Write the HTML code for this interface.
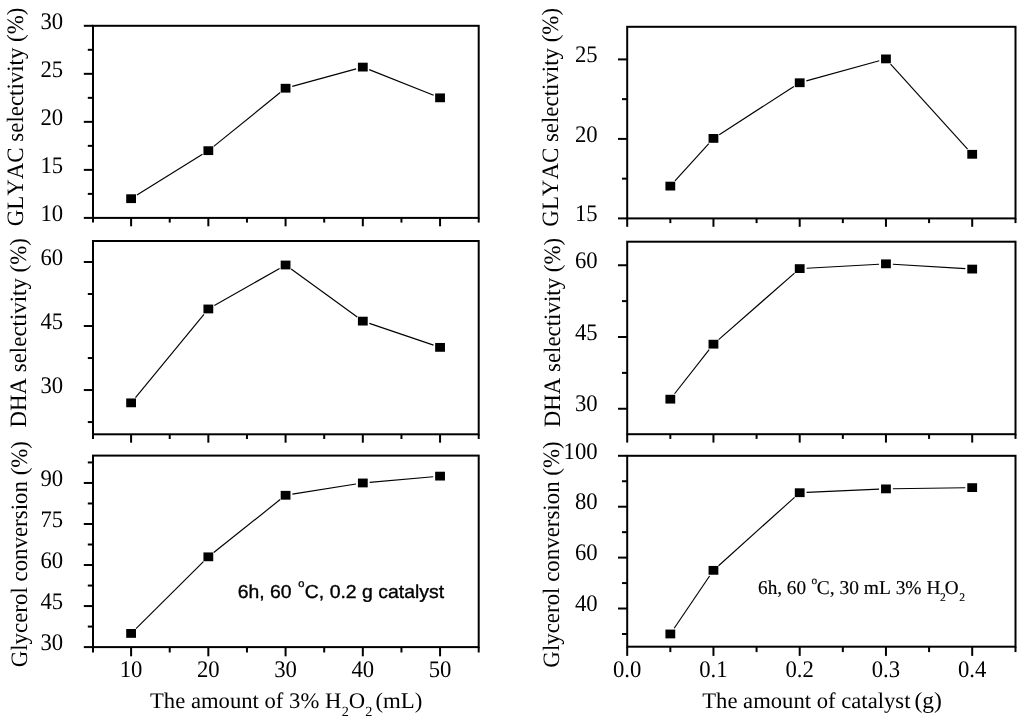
<!DOCTYPE html>
<html lang="en">
<head>
<meta charset="utf-8">
<title>Effect of H2O2 amount and catalyst amount</title>
<style>
html,body{margin:0;padding:0;background:#fff;}
body{width:1024px;height:724px;overflow:hidden;}
svg{display:block;}
svg line, svg rect.fr{stroke:#000;}
svg text{fill:#000;font-family:"Liberation Serif",serif;font-kerning:none;text-rendering:geometricPrecision;}
.tk{font-size:22.7px;}
.ti{font-size:22.3px;}
.yt{font-size:22.9px;}
.an2{stroke:#000;stroke-width:0.15px;}
.an1{font-family:"Liberation Sans",sans-serif;stroke:#000;stroke-width:0.35px;}
</style>
</head>
<body>
<svg width="1024" height="724" viewBox="0 0 1024 724">
<rect x="0" y="0" width="1024" height="724" fill="#fff" stroke="none"/>
<rect x="93" y="25.8" width="385.7" height="192.1" class="fr" fill="none" stroke-width="2.0"/>
<line x1="83.8" y1="217.9" x2="93" y2="217.9" stroke-width="2.0"/>
<line x1="83.8" y1="169.88" x2="93" y2="169.88" stroke-width="2.0"/>
<line x1="83.8" y1="121.85" x2="93" y2="121.85" stroke-width="2.0"/>
<line x1="83.8" y1="73.83" x2="93" y2="73.83" stroke-width="2.0"/>
<line x1="83.8" y1="25.8" x2="93" y2="25.8" stroke-width="2.0"/>
<line x1="87.8" y1="193.89" x2="93" y2="193.89" stroke-width="2.0"/>
<line x1="87.8" y1="145.86" x2="93" y2="145.86" stroke-width="2.0"/>
<line x1="87.8" y1="97.84" x2="93" y2="97.84" stroke-width="2.0"/>
<line x1="87.8" y1="49.81" x2="93" y2="49.81" stroke-width="2.0"/>
<line x1="131.1" y1="217.9" x2="131.1" y2="226.3" stroke-width="2.0"/>
<line x1="208.34" y1="217.9" x2="208.34" y2="226.3" stroke-width="2.0"/>
<line x1="285.58" y1="217.9" x2="285.58" y2="226.3" stroke-width="2.0"/>
<line x1="362.82" y1="217.9" x2="362.82" y2="226.3" stroke-width="2.0"/>
<line x1="440.06" y1="217.9" x2="440.06" y2="226.3" stroke-width="2.0"/>
<line x1="93" y1="217.9" x2="93" y2="222.6" stroke-width="2.0"/>
<line x1="169.72" y1="217.9" x2="169.72" y2="222.6" stroke-width="2.0"/>
<line x1="246.96" y1="217.9" x2="246.96" y2="222.6" stroke-width="2.0"/>
<line x1="324.2" y1="217.9" x2="324.2" y2="222.6" stroke-width="2.0"/>
<line x1="401.44" y1="217.9" x2="401.44" y2="222.6" stroke-width="2.0"/>
<line x1="478.7" y1="217.9" x2="478.7" y2="222.6" stroke-width="2.0"/>
<line x1="136.96" y1="195.05" x2="202.48" y2="154.31" stroke-width="1.15"/>
<line x1="213.71" y1="146.33" x2="280.21" y2="92.57" stroke-width="1.15"/>
<line x1="292.24" y1="86.41" x2="356.16" y2="68.92" stroke-width="1.15"/>
<line x1="369.23" y1="69.65" x2="433.65" y2="95.29" stroke-width="1.15"/>
<rect x="126.2" y="194.29" width="9.8" height="8.8" fill="#000" stroke="none"/>
<rect x="203.44" y="146.27" width="9.8" height="8.8" fill="#000" stroke="none"/>
<rect x="280.68" y="83.83" width="9.8" height="8.8" fill="#000" stroke="none"/>
<rect x="357.92" y="62.7" width="9.8" height="8.8" fill="#000" stroke="none"/>
<rect x="435.16" y="93.44" width="9.8" height="8.8" fill="#000" stroke="none"/>
<text class="tk" transform="translate(63.1,221.3) scale(1,1.05)" text-anchor="end">10</text>
<text class="tk" transform="translate(63.1,173.28) scale(1,1.05)" text-anchor="end">15</text>
<text class="tk" transform="translate(63.1,125.25) scale(1,1.05)" text-anchor="end">20</text>
<text class="tk" transform="translate(63.1,77.23) scale(1,1.05)" text-anchor="end">25</text>
<text class="tk" transform="translate(63.1,29.2) scale(1,1.05)" text-anchor="end">30</text>
<rect x="93" y="241" width="385.7" height="193.3" class="fr" fill="none" stroke-width="2.0"/>
<line x1="83.8" y1="390.05" x2="93" y2="390.05" stroke-width="2.0"/>
<line x1="83.8" y1="326.03" x2="93" y2="326.03" stroke-width="2.0"/>
<line x1="83.8" y1="262.01" x2="93" y2="262.01" stroke-width="2.0"/>
<line x1="87.8" y1="422.06" x2="93" y2="422.06" stroke-width="2.0"/>
<line x1="87.8" y1="358.04" x2="93" y2="358.04" stroke-width="2.0"/>
<line x1="87.8" y1="294.02" x2="93" y2="294.02" stroke-width="2.0"/>
<line x1="131.1" y1="434.3" x2="131.1" y2="442.7" stroke-width="2.0"/>
<line x1="208.34" y1="434.3" x2="208.34" y2="442.7" stroke-width="2.0"/>
<line x1="285.58" y1="434.3" x2="285.58" y2="442.7" stroke-width="2.0"/>
<line x1="362.82" y1="434.3" x2="362.82" y2="442.7" stroke-width="2.0"/>
<line x1="440.06" y1="434.3" x2="440.06" y2="442.7" stroke-width="2.0"/>
<line x1="93" y1="434.3" x2="93" y2="439" stroke-width="2.0"/>
<line x1="169.72" y1="434.3" x2="169.72" y2="439" stroke-width="2.0"/>
<line x1="246.96" y1="434.3" x2="246.96" y2="439" stroke-width="2.0"/>
<line x1="324.2" y1="434.3" x2="324.2" y2="439" stroke-width="2.0"/>
<line x1="401.44" y1="434.3" x2="401.44" y2="439" stroke-width="2.0"/>
<line x1="478.7" y1="434.3" x2="478.7" y2="439" stroke-width="2.0"/>
<line x1="135.48" y1="397.53" x2="203.96" y2="314.29" stroke-width="1.15"/>
<line x1="214.34" y1="305.54" x2="279.58" y2="268.41" stroke-width="1.15"/>
<line x1="291.16" y1="269.05" x2="357.24" y2="317.07" stroke-width="1.15"/>
<line x1="369.35" y1="323.34" x2="433.53" y2="345.15" stroke-width="1.15"/>
<rect x="126.2" y="398.45" width="9.8" height="8.8" fill="#000" stroke="none"/>
<rect x="203.44" y="304.56" width="9.8" height="8.8" fill="#000" stroke="none"/>
<rect x="280.68" y="260.6" width="9.8" height="8.8" fill="#000" stroke="none"/>
<rect x="357.92" y="316.72" width="9.8" height="8.8" fill="#000" stroke="none"/>
<rect x="435.16" y="342.97" width="9.8" height="8.8" fill="#000" stroke="none"/>
<text class="tk" transform="translate(63.1,392.75) scale(1,1.05)" text-anchor="end">30</text>
<text class="tk" transform="translate(63.1,328.73) scale(1,1.05)" text-anchor="end">45</text>
<text class="tk" transform="translate(63.1,264.71) scale(1,1.05)" text-anchor="end">60</text>
<rect x="93" y="455.6" width="385.7" height="191.5" class="fr" fill="none" stroke-width="2.0"/>
<line x1="83.8" y1="647.1" x2="93" y2="647.1" stroke-width="2.0"/>
<line x1="83.8" y1="606.06" x2="93" y2="606.06" stroke-width="2.0"/>
<line x1="83.8" y1="565.03" x2="93" y2="565.03" stroke-width="2.0"/>
<line x1="83.8" y1="523.99" x2="93" y2="523.99" stroke-width="2.0"/>
<line x1="83.8" y1="482.96" x2="93" y2="482.96" stroke-width="2.0"/>
<line x1="87.8" y1="626.58" x2="93" y2="626.58" stroke-width="2.0"/>
<line x1="87.8" y1="585.55" x2="93" y2="585.55" stroke-width="2.0"/>
<line x1="87.8" y1="544.51" x2="93" y2="544.51" stroke-width="2.0"/>
<line x1="87.8" y1="503.48" x2="93" y2="503.48" stroke-width="2.0"/>
<line x1="87.8" y1="462.44" x2="93" y2="462.44" stroke-width="2.0"/>
<line x1="131.1" y1="647.1" x2="131.1" y2="656.3" stroke-width="2.0"/>
<line x1="208.34" y1="647.1" x2="208.34" y2="656.3" stroke-width="2.0"/>
<line x1="285.58" y1="647.1" x2="285.58" y2="656.3" stroke-width="2.0"/>
<line x1="362.82" y1="647.1" x2="362.82" y2="656.3" stroke-width="2.0"/>
<line x1="440.06" y1="647.1" x2="440.06" y2="656.3" stroke-width="2.0"/>
<line x1="93" y1="647.1" x2="93" y2="652.5" stroke-width="2.0"/>
<line x1="169.72" y1="647.1" x2="169.72" y2="652.5" stroke-width="2.0"/>
<line x1="246.96" y1="647.1" x2="246.96" y2="652.5" stroke-width="2.0"/>
<line x1="324.2" y1="647.1" x2="324.2" y2="652.5" stroke-width="2.0"/>
<line x1="401.44" y1="647.1" x2="401.44" y2="652.5" stroke-width="2.0"/>
<line x1="478.7" y1="647.1" x2="478.7" y2="652.5" stroke-width="2.0"/>
<line x1="136" y1="628.56" x2="203.44" y2="561.68" stroke-width="1.15"/>
<line x1="213.74" y1="552.52" x2="280.18" y2="499.57" stroke-width="1.15"/>
<line x1="292.39" y1="494.18" x2="356.01" y2="484.04" stroke-width="1.15"/>
<line x1="369.69" y1="482.35" x2="433.19" y2="476.73" stroke-width="1.15"/>
<rect x="126.2" y="629.02" width="9.8" height="8.8" fill="#000" stroke="none"/>
<rect x="203.44" y="552.42" width="9.8" height="8.8" fill="#000" stroke="none"/>
<rect x="280.68" y="490.87" width="9.8" height="8.8" fill="#000" stroke="none"/>
<rect x="357.92" y="478.56" width="9.8" height="8.8" fill="#000" stroke="none"/>
<rect x="435.16" y="471.72" width="9.8" height="8.8" fill="#000" stroke="none"/>
<text class="tk" transform="translate(63.1,649.8) scale(1,1.05)" text-anchor="end">30</text>
<text class="tk" transform="translate(63.1,608.76) scale(1,1.05)" text-anchor="end">45</text>
<text class="tk" transform="translate(63.1,567.73) scale(1,1.05)" text-anchor="end">60</text>
<text class="tk" transform="translate(63.1,526.69) scale(1,1.05)" text-anchor="end">75</text>
<text class="tk" transform="translate(63.1,485.66) scale(1,1.05)" text-anchor="end">90</text>
<text class="tk" transform="translate(131.1,677.1) scale(1,1.05)" text-anchor="middle">10</text>
<text class="tk" transform="translate(208.34,677.1) scale(1,1.05)" text-anchor="middle">20</text>
<text class="tk" transform="translate(285.58,677.1) scale(1,1.05)" text-anchor="middle">30</text>
<text class="tk" transform="translate(362.82,677.1) scale(1,1.05)" text-anchor="middle">40</text>
<text class="tk" transform="translate(440.06,677.1) scale(1,1.05)" text-anchor="middle">50</text>
<rect x="627.2" y="26.8" width="388.3" height="191.6" class="fr" fill="none" stroke-width="2.0"/>
<line x1="618" y1="218.4" x2="627.2" y2="218.4" stroke-width="2.0"/>
<line x1="618" y1="138.9" x2="627.2" y2="138.9" stroke-width="2.0"/>
<line x1="618" y1="59.4" x2="627.2" y2="59.4" stroke-width="2.0"/>
<line x1="622" y1="178.65" x2="627.2" y2="178.65" stroke-width="2.0"/>
<line x1="622" y1="99.15" x2="627.2" y2="99.15" stroke-width="2.0"/>
<line x1="627.2" y1="218.4" x2="627.2" y2="226.8" stroke-width="2.0"/>
<line x1="713.45" y1="218.4" x2="713.45" y2="226.8" stroke-width="2.0"/>
<line x1="799.7" y1="218.4" x2="799.7" y2="226.8" stroke-width="2.0"/>
<line x1="885.95" y1="218.4" x2="885.95" y2="226.8" stroke-width="2.0"/>
<line x1="972.2" y1="218.4" x2="972.2" y2="226.8" stroke-width="2.0"/>
<line x1="670.33" y1="218.4" x2="670.33" y2="223.1" stroke-width="2.0"/>
<line x1="756.58" y1="218.4" x2="756.58" y2="223.1" stroke-width="2.0"/>
<line x1="842.83" y1="218.4" x2="842.83" y2="223.1" stroke-width="2.0"/>
<line x1="929.08" y1="218.4" x2="929.08" y2="223.1" stroke-width="2.0"/>
<line x1="1015.5" y1="218.4" x2="1015.5" y2="223.1" stroke-width="2.0"/>
<line x1="674.95" y1="180.98" x2="708.82" y2="143.52" stroke-width="1.15"/>
<line x1="719.25" y1="134.66" x2="793.9" y2="86.49" stroke-width="1.15"/>
<line x1="806.35" y1="80.91" x2="879.3" y2="60.74" stroke-width="1.15"/>
<line x1="890.58" y1="64.02" x2="967.57" y2="149.18" stroke-width="1.15"/>
<rect x="665.43" y="181.7" width="9.8" height="8.8" fill="#000" stroke="none"/>
<rect x="708.55" y="134" width="9.8" height="8.8" fill="#000" stroke="none"/>
<rect x="794.8" y="78.35" width="9.8" height="8.8" fill="#000" stroke="none"/>
<rect x="881.05" y="54.5" width="9.8" height="8.8" fill="#000" stroke="none"/>
<rect x="967.3" y="149.9" width="9.8" height="8.8" fill="#000" stroke="none"/>
<text class="tk" transform="translate(597.6,221.1) scale(1,1.05)" text-anchor="end">15</text>
<text class="tk" transform="translate(597.6,141.6) scale(1,1.05)" text-anchor="end">20</text>
<text class="tk" transform="translate(597.6,62.1) scale(1,1.05)" text-anchor="end">25</text>
<rect x="627.2" y="241.7" width="388.3" height="192.5" class="fr" fill="none" stroke-width="2.0"/>
<line x1="618" y1="408.75" x2="627.2" y2="408.75" stroke-width="2.0"/>
<line x1="618" y1="337" x2="627.2" y2="337" stroke-width="2.0"/>
<line x1="618" y1="265.25" x2="627.2" y2="265.25" stroke-width="2.0"/>
<line x1="622" y1="372.88" x2="627.2" y2="372.88" stroke-width="2.0"/>
<line x1="622" y1="301.12" x2="627.2" y2="301.12" stroke-width="2.0"/>
<line x1="627.2" y1="434.2" x2="627.2" y2="442.6" stroke-width="2.0"/>
<line x1="713.45" y1="434.2" x2="713.45" y2="442.6" stroke-width="2.0"/>
<line x1="799.7" y1="434.2" x2="799.7" y2="442.6" stroke-width="2.0"/>
<line x1="885.95" y1="434.2" x2="885.95" y2="442.6" stroke-width="2.0"/>
<line x1="972.2" y1="434.2" x2="972.2" y2="442.6" stroke-width="2.0"/>
<line x1="670.33" y1="434.2" x2="670.33" y2="438.9" stroke-width="2.0"/>
<line x1="756.58" y1="434.2" x2="756.58" y2="438.9" stroke-width="2.0"/>
<line x1="842.83" y1="434.2" x2="842.83" y2="438.9" stroke-width="2.0"/>
<line x1="929.08" y1="434.2" x2="929.08" y2="438.9" stroke-width="2.0"/>
<line x1="1015.5" y1="434.2" x2="1015.5" y2="438.9" stroke-width="2.0"/>
<line x1="674.58" y1="393.75" x2="709.19" y2="349.61" stroke-width="1.15"/>
<line x1="718.64" y1="339.63" x2="794.51" y2="273.15" stroke-width="1.15"/>
<line x1="806.59" y1="268.22" x2="879.06" y2="264.2" stroke-width="1.15"/>
<line x1="892.84" y1="264.24" x2="965.31" y2="268.66" stroke-width="1.15"/>
<rect x="665.43" y="394.78" width="9.8" height="8.8" fill="#000" stroke="none"/>
<rect x="708.55" y="339.78" width="9.8" height="8.8" fill="#000" stroke="none"/>
<rect x="794.8" y="264.2" width="9.8" height="8.8" fill="#000" stroke="none"/>
<rect x="881.05" y="259.42" width="9.8" height="8.8" fill="#000" stroke="none"/>
<rect x="967.3" y="264.68" width="9.8" height="8.8" fill="#000" stroke="none"/>
<text class="tk" transform="translate(597.6,411.45) scale(1,1.05)" text-anchor="end">30</text>
<text class="tk" transform="translate(597.6,339.7) scale(1,1.05)" text-anchor="end">45</text>
<text class="tk" transform="translate(597.6,267.95) scale(1,1.05)" text-anchor="end">60</text>
<rect x="627.2" y="455.8" width="388.3" height="190.9" class="fr" fill="none" stroke-width="2.0"/>
<line x1="618" y1="608.52" x2="627.2" y2="608.52" stroke-width="2.0"/>
<line x1="618" y1="557.61" x2="627.2" y2="557.61" stroke-width="2.0"/>
<line x1="618" y1="506.71" x2="627.2" y2="506.71" stroke-width="2.0"/>
<line x1="618" y1="455.8" x2="627.2" y2="455.8" stroke-width="2.0"/>
<line x1="622" y1="633.97" x2="627.2" y2="633.97" stroke-width="2.0"/>
<line x1="622" y1="583.07" x2="627.2" y2="583.07" stroke-width="2.0"/>
<line x1="622" y1="532.16" x2="627.2" y2="532.16" stroke-width="2.0"/>
<line x1="622" y1="481.25" x2="627.2" y2="481.25" stroke-width="2.0"/>
<line x1="627.2" y1="646.7" x2="627.2" y2="655.9" stroke-width="2.0"/>
<line x1="713.45" y1="646.7" x2="713.45" y2="655.9" stroke-width="2.0"/>
<line x1="799.7" y1="646.7" x2="799.7" y2="655.9" stroke-width="2.0"/>
<line x1="885.95" y1="646.7" x2="885.95" y2="655.9" stroke-width="2.0"/>
<line x1="972.2" y1="646.7" x2="972.2" y2="655.9" stroke-width="2.0"/>
<line x1="670.33" y1="646.7" x2="670.33" y2="652.1" stroke-width="2.0"/>
<line x1="756.58" y1="646.7" x2="756.58" y2="652.1" stroke-width="2.0"/>
<line x1="842.83" y1="646.7" x2="842.83" y2="652.1" stroke-width="2.0"/>
<line x1="929.08" y1="646.7" x2="929.08" y2="652.1" stroke-width="2.0"/>
<line x1="1015.5" y1="646.7" x2="1015.5" y2="652.1" stroke-width="2.0"/>
<line x1="674.2" y1="628.26" x2="709.58" y2="576.05" stroke-width="1.15"/>
<line x1="718.58" y1="565.72" x2="794.57" y2="497.32" stroke-width="1.15"/>
<line x1="806.59" y1="492.4" x2="879.06" y2="489.19" stroke-width="1.15"/>
<line x1="892.85" y1="488.79" x2="965.3" y2="487.72" stroke-width="1.15"/>
<rect x="665.43" y="629.57" width="9.8" height="8.8" fill="#000" stroke="none"/>
<rect x="708.55" y="565.94" width="9.8" height="8.8" fill="#000" stroke="none"/>
<rect x="794.8" y="488.31" width="9.8" height="8.8" fill="#000" stroke="none"/>
<rect x="881.05" y="484.49" width="9.8" height="8.8" fill="#000" stroke="none"/>
<rect x="967.3" y="483.22" width="9.8" height="8.8" fill="#000" stroke="none"/>
<text class="tk" transform="translate(597.6,611.22) scale(1,1.05)" text-anchor="end">40</text>
<text class="tk" transform="translate(597.6,560.31) scale(1,1.05)" text-anchor="end">60</text>
<text class="tk" transform="translate(597.6,509.41) scale(1,1.05)" text-anchor="end">80</text>
<text class="tk" transform="translate(597.6,458.5) scale(1,1.05)" text-anchor="end">100</text>
<text class="tk" transform="translate(627.2,677) scale(1,1.05)" text-anchor="middle">0.0</text>
<text class="tk" transform="translate(713.45,677) scale(1,1.05)" text-anchor="middle">0.1</text>
<text class="tk" transform="translate(799.7,677) scale(1,1.05)" text-anchor="middle">0.2</text>
<text class="tk" transform="translate(885.95,677) scale(1,1.05)" text-anchor="middle">0.3</text>
<text class="tk" transform="translate(972.2,677) scale(1,1.05)" text-anchor="middle">0.4</text>
<text class="yt" transform="translate(23.4,116.9) rotate(-90) scale(1,1.025)" text-anchor="middle">GLYAC selectivity (%)</text>
<text class="yt" transform="translate(26.1,332.8) rotate(-90) scale(1,1.025)" text-anchor="middle">DHA selectivity (%)</text>
<text class="yt" transform="translate(27.2,554.2) rotate(-90) scale(1,1.025)" text-anchor="middle">Glycerol conversion (%)</text>
<text class="yt" transform="translate(557.6,117.3) rotate(-90) scale(1,1.025)" text-anchor="middle">GLYAC selectivity (%)</text>
<text class="yt" transform="translate(560.1,332.6) rotate(-90) scale(1,1.025)" text-anchor="middle">DHA selectivity (%)</text>
<text class="yt" transform="translate(558.6,554.5) rotate(-90) scale(1,1.025)" text-anchor="middle">Glycerol conversion (%)</text>
<text class="ti" style="font-size:22.3px" transform="translate(150.02,707.9) scale(1.016,1.0)">The amount of 3% H</text>
<text class="ti" style="font-size:14.0px" transform="translate(341.73,716.3) scale(1.016,1.0)">2</text>
<text class="ti" style="font-size:22.3px" transform="translate(348.69,707.9) scale(1.016,1.0)">O</text>
<text class="ti" style="font-size:14.0px" transform="translate(365.13,716.3) scale(1.016,1.0)">2</text>
<text class="ti" style="font-size:22.5px" transform="translate(375.39,707.9) scale(1.016,1.0)">(mL)</text>
<text class="ti" style="font-size:22.3px" transform="translate(702.22,707.7) scale(1.016,1.0)">The amount of catalyst</text>
<text class="ti" style="font-size:23.2px" transform="translate(914.46,707.7) scale(1.016,1.0)">(g)</text>
<text class="an1" style="font-size:18.8px" transform="translate(237.83,597.5) scale(1.03,1.0)">6h, 60</text>
<text class="an1" style="font-size:10.8px" transform="translate(298.16,587.4) scale(1.03,1.0)">o</text>
<text class="an1" style="font-size:18.8px" transform="translate(304.83,597.5) scale(1.034,1.0)">C, 0.2 g catalyst</text>
<text class="an2" style="font-size:19.6px" transform="translate(758.03,593.8) scale(0.98,1.0)">6h, 60</text>
<text class="an2" style="font-size:11.3px" transform="translate(811.56,583.5) scale(1.0,1.0)">o</text>
<text class="an2" style="font-size:19.6px" transform="translate(816.82,593.8) scale(0.992,1.0)">C, 30 mL 3% H</text>
<text class="an2" style="font-size:11.6px" transform="translate(939.94,601) scale(1.0,1.0)">2</text>
<text class="an2" style="font-size:19.6px" transform="translate(944.83,593.8) scale(0.98,1.0)">O</text>
<text class="an2" style="font-size:11.6px" transform="translate(959.14,601) scale(1.0,1.0)">2</text>
</svg>
</body>
</html>
